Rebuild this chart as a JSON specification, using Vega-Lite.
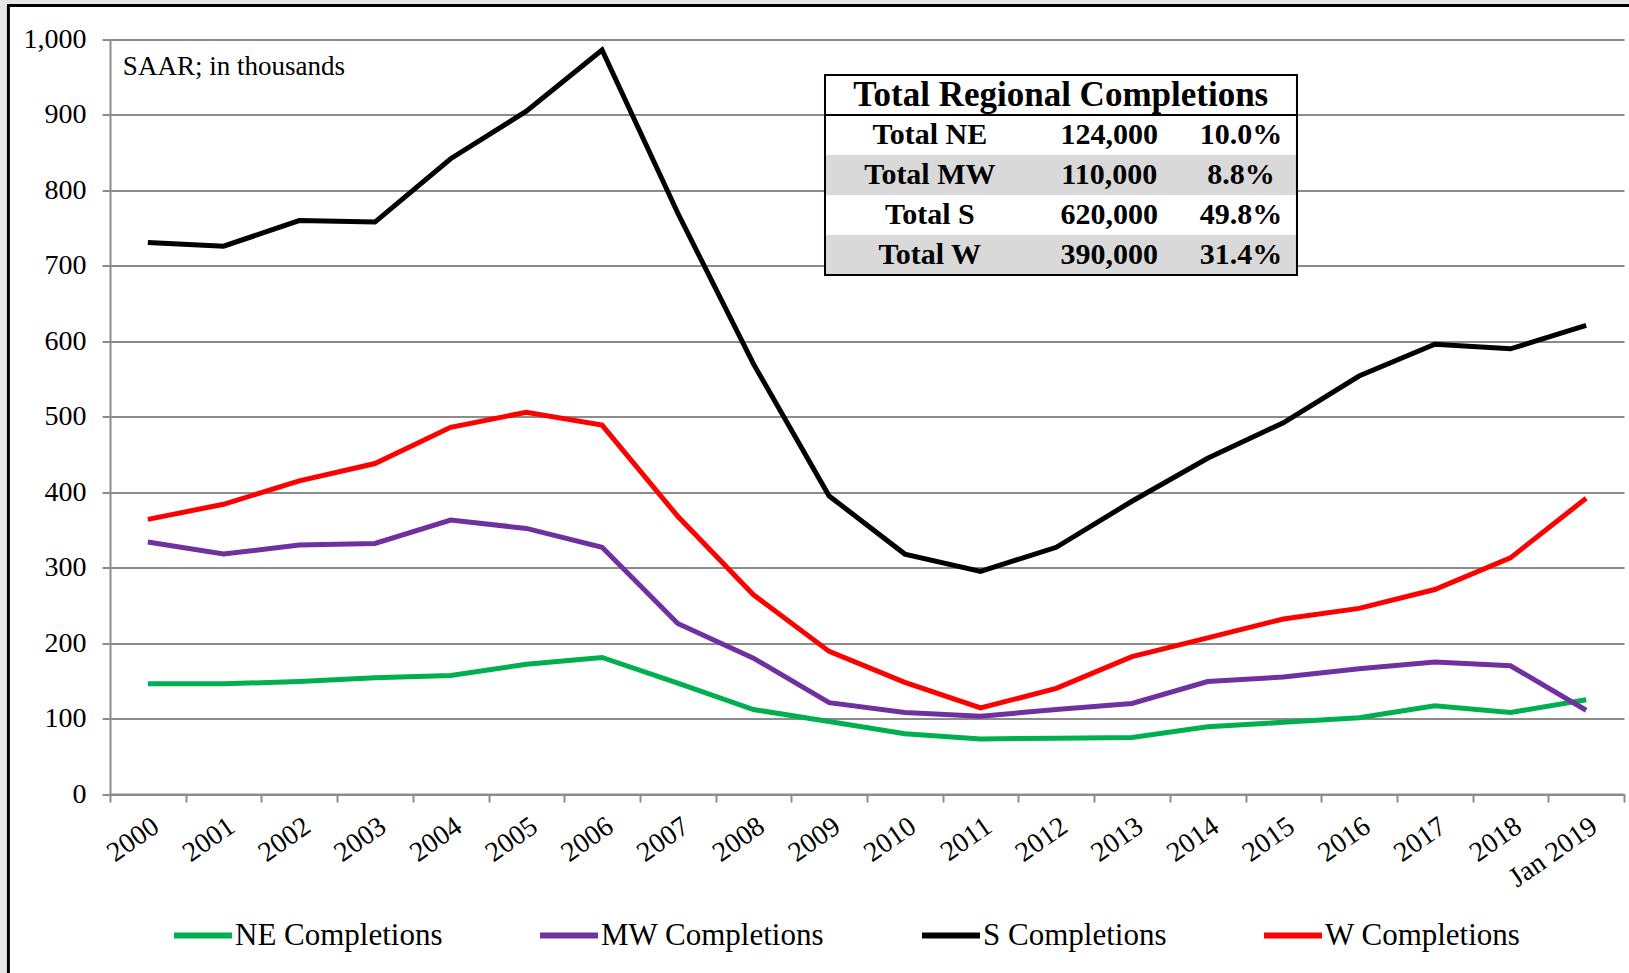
{
  "$schema": "https://vega.github.io/schema/vega-lite/v6.json",
  "width": 1514,
  "height": 754.5,
  "autosize": {"type": "none"},
  "padding": {"left": 110, "top": 39.5, "right": 5, "bottom": 179},
  "background": "white",
  "config": {"view": {"stroke": null}, "font": "Liberation Serif"},
  "datasets": {
    "series": [
      {"period": "2000", "series": "NE Completions", "value": 146},
      {"period": "2001", "series": "NE Completions", "value": 146},
      {"period": "2002", "series": "NE Completions", "value": 149},
      {"period": "2003", "series": "NE Completions", "value": 154},
      {"period": "2004", "series": "NE Completions", "value": 157},
      {"period": "2005", "series": "NE Completions", "value": 172},
      {"period": "2006", "series": "NE Completions", "value": 181},
      {"period": "2007", "series": "NE Completions", "value": 147},
      {"period": "2008", "series": "NE Completions", "value": 112},
      {"period": "2009", "series": "NE Completions", "value": 96},
      {"period": "2010", "series": "NE Completions", "value": 80},
      {"period": "2011", "series": "NE Completions", "value": 73},
      {"period": "2012", "series": "NE Completions", "value": 74},
      {"period": "2013", "series": "NE Completions", "value": 75},
      {"period": "2014", "series": "NE Completions", "value": 89},
      {"period": "2015", "series": "NE Completions", "value": 95},
      {"period": "2016", "series": "NE Completions", "value": 101},
      {"period": "2017", "series": "NE Completions", "value": 117},
      {"period": "2018", "series": "NE Completions", "value": 108},
      {"period": "Jan 2019", "series": "NE Completions", "value": 125},
      {"period": "2000", "series": "MW Completions", "value": 334},
      {"period": "2001", "series": "MW Completions", "value": 318},
      {"period": "2002", "series": "MW Completions", "value": 330},
      {"period": "2003", "series": "MW Completions", "value": 332},
      {"period": "2004", "series": "MW Completions", "value": 363},
      {"period": "2005", "series": "MW Completions", "value": 352},
      {"period": "2006", "series": "MW Completions", "value": 327},
      {"period": "2007", "series": "MW Completions", "value": 226},
      {"period": "2008", "series": "MW Completions", "value": 180},
      {"period": "2009", "series": "MW Completions", "value": 121},
      {"period": "2010", "series": "MW Completions", "value": 108},
      {"period": "2011", "series": "MW Completions", "value": 103},
      {"period": "2012", "series": "MW Completions", "value": 112},
      {"period": "2013", "series": "MW Completions", "value": 120},
      {"period": "2014", "series": "MW Completions", "value": 149},
      {"period": "2015", "series": "MW Completions", "value": 155},
      {"period": "2016", "series": "MW Completions", "value": 166},
      {"period": "2017", "series": "MW Completions", "value": 175},
      {"period": "2018", "series": "MW Completions", "value": 170},
      {"period": "Jan 2019", "series": "MW Completions", "value": 111},
      {"period": "2000", "series": "S Completions", "value": 731},
      {"period": "2001", "series": "S Completions", "value": 726},
      {"period": "2002", "series": "S Completions", "value": 760},
      {"period": "2003", "series": "S Completions", "value": 758},
      {"period": "2004", "series": "S Completions", "value": 842},
      {"period": "2005", "series": "S Completions", "value": 905},
      {"period": "2006", "series": "S Completions", "value": 986},
      {"period": "2007", "series": "S Completions", "value": 770},
      {"period": "2008", "series": "S Completions", "value": 570},
      {"period": "2009", "series": "S Completions", "value": 395},
      {"period": "2010", "series": "S Completions", "value": 318},
      {"period": "2011", "series": "S Completions", "value": 295},
      {"period": "2012", "series": "S Completions", "value": 327},
      {"period": "2013", "series": "S Completions", "value": 388},
      {"period": "2014", "series": "S Completions", "value": 445},
      {"period": "2015", "series": "S Completions", "value": 492},
      {"period": "2016", "series": "S Completions", "value": 554},
      {"period": "2017", "series": "S Completions", "value": 596},
      {"period": "2018", "series": "S Completions", "value": 590},
      {"period": "Jan 2019", "series": "S Completions", "value": 621},
      {"period": "2000", "series": "W Completions", "value": 364},
      {"period": "2001", "series": "W Completions", "value": 384},
      {"period": "2002", "series": "W Completions", "value": 415},
      {"period": "2003", "series": "W Completions", "value": 438},
      {"period": "2004", "series": "W Completions", "value": 486},
      {"period": "2005", "series": "W Completions", "value": 506},
      {"period": "2006", "series": "W Completions", "value": 489},
      {"period": "2007", "series": "W Completions", "value": 368},
      {"period": "2008", "series": "W Completions", "value": 264},
      {"period": "2009", "series": "W Completions", "value": 189},
      {"period": "2010", "series": "W Completions", "value": 148},
      {"period": "2011", "series": "W Completions", "value": 114},
      {"period": "2012", "series": "W Completions", "value": 140},
      {"period": "2013", "series": "W Completions", "value": 182},
      {"period": "2014", "series": "W Completions", "value": 207},
      {"period": "2015", "series": "W Completions", "value": 232},
      {"period": "2016", "series": "W Completions", "value": 246},
      {"period": "2017", "series": "W Completions", "value": 271},
      {"period": "2018", "series": "W Completions", "value": 313},
      {"period": "Jan 2019", "series": "W Completions", "value": 392}
    ],
    "table": [
      {"row": 0, "label": "Total Regional Completions", "count": "", "pct": "", "shaded": false, "header": true},
      {"row": 1, "label": "Total NE", "count": "124,000", "pct": "10.0%", "shaded": false, "header": false},
      {"row": 2, "label": "Total MW", "count": "110,000", "pct": "8.8%", "shaded": true, "header": false},
      {"row": 3, "label": "Total S", "count": "620,000", "pct": "49.8%", "shaded": false, "header": false},
      {"row": 4, "label": "Total W", "count": "390,000", "pct": "31.4%", "shaded": true, "header": false}
    ]
  },
  "resolve": {"scale": {"x": "independent", "y": "independent"}},
  "layer": [
    {
      "layer": [
        {
          "data": {"name": "series"},
          "mark": {"type": "line", "strokeWidth": 5},
          "encoding": {
            "x": {
              "field": "period", "type": "ordinal", "sort": null, "bandPosition": 0.5,
              "scale": {"type": "band", "paddingInner": 0, "paddingOuter": 0},
              "axis": {
                "title": null, "labelAngle": -35, "labelFontSize": 28, "labelColor": "black",
                "labelFont": "Liberation Serif", "tickBand": "extent", "tickSize": 8,
                "tickColor": "#8c8c8c", "tickWidth": 2, "domainColor": "#8c8c8c", "domainWidth": 2,
                "labelPadding": 10, "grid": false
              }
            },
            "y": {
              "field": "value", "type": "quantitative",
              "scale": {"domain": [0, 1000], "nice": false},
              "axis": {
                "title": null, "values": [0, 100, 200, 300, 400, 500, 600, 700, 800, 900, 1000],
                "format": ",.0f", "labelFontSize": 28, "labelColor": "black", "labelFont": "Liberation Serif",
                "tickSize": 8, "tickColor": "#8c8c8c", "tickWidth": 2,
                "domainColor": "#8c8c8c", "domainWidth": 2,
                "grid": true, "gridColor": "#8c8c8c", "gridWidth": 2, "labelPadding": 16
              }
            },
            "color": {
              "field": "series", "type": "nominal",
              "scale": {
                "domain": ["NE Completions", "MW Completions", "S Completions", "W Completions"],
                "range": ["#00b050", "#7030a0", "#000000", "#ff0000"]
              },
              "legend": {
                "title": null, "orient": "none", "legendX": 61, "legendY": 864,
                "direction": "horizontal", "columns": 4,
                "labelFontSize": 31, "labelFont": "Liberation Serif", "labelColor": "black",
                "symbolType": "stroke", "symbolSize": 3364, "symbolStrokeWidth": 6,
                "labelOffset": 0, "columnPadding": 85, "labelLimit": 500
              }
            }
          }
        },
        {
          "data": {"values": [{}]},
          "mark": {"type": "text", "align": "left", "baseline": "alphabetic", "fontSize": 27, "color": "black", "font": "Liberation Serif"},
          "encoding": {
            "x": {"datum": "2000", "bandPosition": 0.17},
            "y": {"datum": 953},
            "text": {"value": "SAAR; in thousands"}
          }
        }
      ]
    },
    {
      "layer": [
        {
          "data": {"values": [{}]},
          "mark": {"type": "rect", "color": "#e6e6e6"},
          "encoding": {
            "x": {"datum": -1.46, "type": "quantitative", "scale": {"domain": [0, 20], "nice": false, "zero": false}, "axis": null},
            "x2": {"datum": -1.36},
            "y": {"datum": -2.4, "type": "quantitative", "scale": {"domain": [-1.3875, 17.475], "reverse": true, "nice": false, "zero": false}, "axis": null},
            "y2": {"datum": 22.0}
          }
        },
        {
          "data": {"values": [{}]},
          "mark": {"type": "rect", "color": "#e6e6e6"},
          "encoding": {
            "x": {"datum": -1.46, "type": "quantitative"},
            "x2": {"datum": 20.1},
            "y": {"datum": -2.4, "type": "quantitative"},
            "y2": {"datum": -2.26}
          }
        },
        {
          "data": {"values": [{}]},
          "mark": {"type": "rule", "color": "black", "strokeWidth": 3},
          "encoding": {
            "x": {"datum": -1.342, "type": "quantitative"},
            "y": {"datum": -2.24, "type": "quantitative"},
            "y2": {"datum": 22.0}
          }
        },
        {
          "data": {"values": [{}]},
          "mark": {"type": "rule", "color": "black", "strokeWidth": 3},
          "encoding": {
            "x": {"datum": -1.36, "type": "quantitative"},
            "x2": {"datum": 20.1},
            "y": {"datum": -2.24, "type": "quantitative"}
          }
        },
        {
          "data": {"name": "table"},
          "mark": {"type": "rect", "height": 40},
          "encoding": {
            "x": {"datum": 9.445, "type": "quantitative"},
            "x2": {"datum": 15.68},
            "y": {"field": "row", "type": "quantitative"},
            "color": {"condition": {"test": "datum.shaded", "value": "#d9d9d9"}, "value": "white"}
          }
        },
        {
          "data": {"values": [{}]},
          "mark": {"type": "rect", "fill": null, "fillOpacity": 0, "stroke": "black", "strokeWidth": 2},
          "encoding": {
            "x": {"datum": 9.445, "type": "quantitative"},
            "x2": {"datum": 15.68},
            "y": {"datum": -0.5, "type": "quantitative"},
            "y2": {"datum": 4.5}
          }
        },
        {
          "data": {"values": [{}]},
          "mark": {"type": "rule", "color": "black", "strokeWidth": 2},
          "encoding": {
            "x": {"datum": 9.445, "type": "quantitative"},
            "x2": {"datum": 15.68},
            "y": {"datum": 0.5, "type": "quantitative"}
          }
        },
        {
          "data": {"values": [{}]},
          "mark": {"type": "text", "align": "center", "baseline": "middle", "fontSize": 35, "fontWeight": "bold", "color": "black", "font": "Liberation Serif"},
          "encoding": {
            "x": {"datum": 12.56, "type": "quantitative"},
            "y": {"datum": 0, "type": "quantitative"},
            "text": {"value": "Total Regional Completions"}
          }
        },
        {
          "data": {"name": "table"},
          "transform": [{"filter": "!datum.header"}],
          "mark": {"type": "text", "align": "center", "baseline": "middle", "fontSize": 30, "fontWeight": "bold", "color": "black", "font": "Liberation Serif"},
          "encoding": {
            "x": {"datum": 10.83, "type": "quantitative"},
            "y": {"field": "row", "type": "quantitative"},
            "text": {"field": "label"}
          }
        },
        {
          "data": {"name": "table"},
          "transform": [{"filter": "!datum.header"}],
          "mark": {"type": "text", "align": "center", "baseline": "middle", "fontSize": 30, "fontWeight": "bold", "color": "black", "font": "Liberation Serif"},
          "encoding": {
            "x": {"datum": 13.2, "type": "quantitative"},
            "y": {"field": "row", "type": "quantitative"},
            "text": {"field": "count"}
          }
        },
        {
          "data": {"name": "table"},
          "transform": [{"filter": "!datum.header"}],
          "mark": {"type": "text", "align": "center", "baseline": "middle", "fontSize": 30, "fontWeight": "bold", "color": "black", "font": "Liberation Serif"},
          "encoding": {
            "x": {"datum": 14.94, "type": "quantitative"},
            "y": {"field": "row", "type": "quantitative"},
            "text": {"field": "pct"}
          }
        }
      ]
    }
  ]
}
